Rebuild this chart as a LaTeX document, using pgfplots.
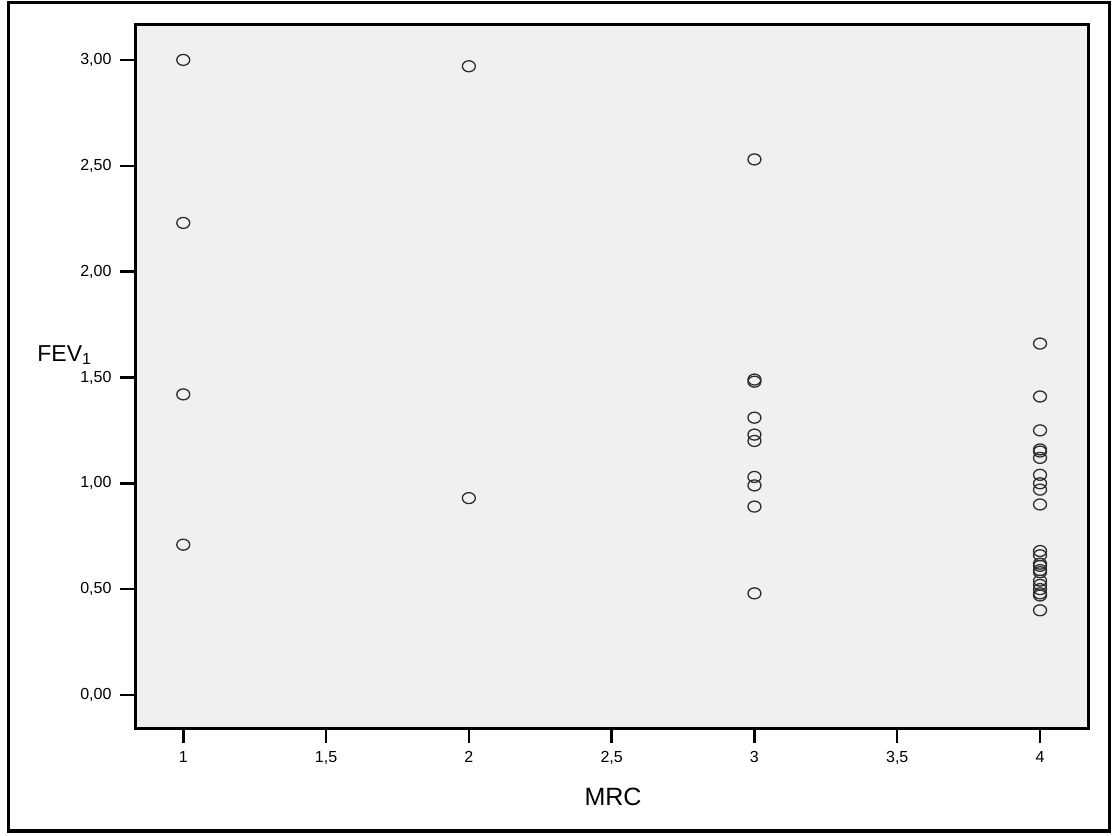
\documentclass[border=0pt]{standalone}
\usepackage{fontspec}
\setmainfont{Liberation Sans}
\usepackage{pgfplots}
\pgfplotsset{compat=1.18}
\definecolor{bg}{RGB}{240,240,240}
\definecolor{mk}{RGB}{45,45,45}
\begin{document}
\begin{tikzpicture}[x=1pt,y=1pt]
\path[use as bounding box] (0,0) rectangle (1116,835);
\draw[line width=3pt] (8,4) rectangle (1109,832);
\begin{axis}[
 at={(135pt,107pt)}, anchor=south west,
 scale only axis, width=953pt, height=703pt,
 xmin=0.831, xmax=4.168, ymin=-0.156, ymax=3.165,
 axis background/.style={fill=bg},
 axis line style={line width=3pt},
 tick pos=left, tick align=outside, major tick length=15pt,
 tick style={line width=2.5pt, black},
 xtick={1,1.5,2,2.5,3,3.5,4}, xticklabels={1,{1,5},2,{2,5},3,{3,5},4},
 ytick={0,0.5,1,1.5,2,2.5,3}, yticklabels={{0,00},{0,50},{1,00},{1,50},{2,00},{2,50},{3,00}},
 xticklabel style={font=\fontsize{16}{19}\selectfont, yshift=-5pt},
 yticklabel style={font=\fontsize{16}{19}\selectfont, xshift=-5pt},
 xlabel={MRC}, ylabel={FEV\textsubscript{1}},
 xlabel style={font=\fontsize{25}{30}\selectfont, at={(axis description cs:0.5016,-0.098)}, anchor=center},
 ylabel style={font=\fontsize{23}{28}\selectfont, at={(axis description cs:-0.0740,0.5306)}, anchor=center, rotate=-90},
]
\addplot[only marks, mark=o, mark size=5.5pt, mark options={xscale=1.18, line width=1.3pt, draw=mk}] table {
x y
1 3.00
1 2.23
1 1.42
1 0.71
2 2.97
2 0.93
3 2.53
3 1.49
3 1.48
3 1.31
3 1.23
3 1.20
3 1.03
3 0.99
3 0.89
3 0.48
4 1.66
4 1.41
4 1.25
4 1.16
4 1.15
4 1.12
4 1.04
4 1.00
4 0.97
4 0.90
4 0.68
4 0.66
4 0.62
4 0.61
4 0.59
4 0.58
4 0.54
4 0.52
4 0.50
4 0.48
4 0.47
4 0.40
};
\end{axis}
\end{tikzpicture}
\end{document}
